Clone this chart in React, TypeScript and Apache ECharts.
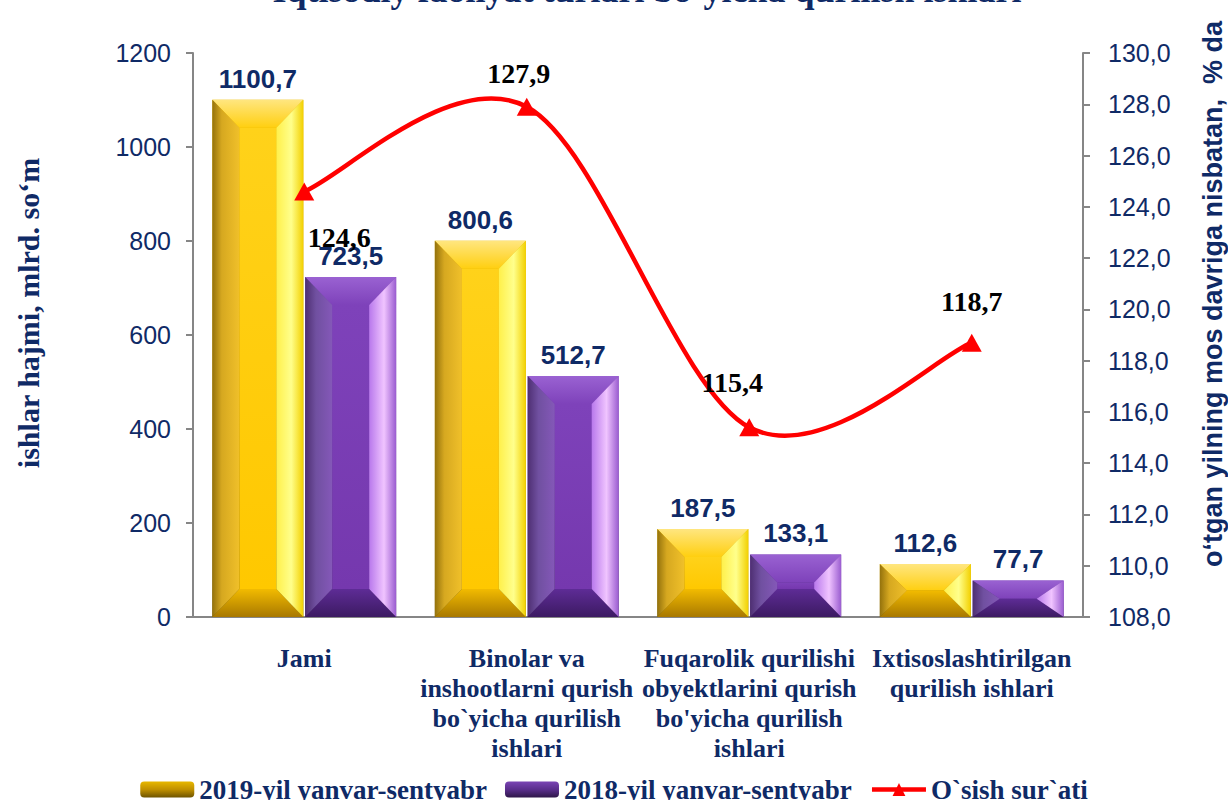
import React, { useEffect, useRef } from "react";
import * as echarts from "echarts";

const titleText = "Iqtisodiy faoliyat turlari bo‘yicha qurilish ishlari";
const leftAxisTitle = "ishlar hajmi, mlrd. so‘m";
const rightAxisTitle = "o‘tgan yilning mos davriga nisbatan,  % da";

const categories = [
  "Jami",
  "Binolar va\ninshootlarni qurish\nbo`yicha qurilish\nishlari",
  "Fuqarolik qurilishi\nobyektlarini qurish\nbo'yicha qurilish\nishlari",
  "Ixtisoslashtirilgan\nqurilish ishlari",
];
const seriesNames = ["2019-yil yanvar-sentyabr", "2018-yil yanvar-sentyabr", "O`sish sur`ati"];
const values2019 = [1100.7, 800.6, 187.5, 112.6];
const values2018 = [723.5, 512.7, 133.1, 77.7];
const growthRate = [124.6, 127.9, 115.4, 118.7];

const leftMin = 0;
const leftMax = 1200;
const leftStep = 200;
const rightMin = 108;
const rightMax = 130;
const rightStep = 2;

// label offsets for line labels (px, relative to marker centre)
const lineLabelOffsets = [
  [35, 46],
  [-8, -33],
  [-17, -45],
  [0, -41],
];

const NAVY = "#0f2a66";
const RED = "#ff0000";
const SERIF = '"Liberation Serif", "Times New Roman", serif';
const SANS = '"Liberation Sans", Arial, sans-serif';
const AXIS_GRAY = "#868686";
const BAR_W = 91;
const BAR_GAP_FRAC = 0.02;
const LINE_W = 4.5;

const fmt = (v: number) => v.toFixed(1).replace(".", ",");

const lg = (x2: number, y2: number, stops: [number, string][]) => ({
  type: "linear",
  x: 0,
  y: 0,
  x2,
  y2,
  colorStops: stops.map(([offset, color]) => ({ offset, color })),
});

const yellowFaces = {
  center: lg(0, 1, [
    [0, "#ffd21a"],
    [1, "#ffc800"],
  ]),
  top: lg(0, 1, [
    [0, "#ffe680"],
    [1, "#ffcf10"],
  ]),
  left: lg(1, 0, [
    [0, "#94720c"],
    [0.35, "#d6a820"],
    [1, "#f0c02a"],
  ]),
  right: lg(1, 0, [
    [0, "#fff04a"],
    [0.55, "#ffff8c"],
    [1, "#f2d000"],
  ]),
  bottom: lg(0, 1, [
    [0, "#f2bb00"],
    [1, "#a87800"],
  ]),
};

const purpleFaces = {
  center: lg(0, 1, [
    [0, "#7e42ba"],
    [1, "#7538ae"],
  ]),
  top: lg(0, 1, [
    [0, "#9a62d2"],
    [1, "#7e42ba"],
  ]),
  left: lg(1, 0, [
    [0, "#4e2f72"],
    [0.4, "#7050a0"],
    [1, "#8458b8"],
  ]),
  right: lg(1, 0, [
    [0, "#b878ec"],
    [0.55, "#f0c4ff"],
    [1, "#9a5cd0"],
  ]),
  bottom: lg(0, 1, [
    [0, "#5e2c96"],
    [1, "#3c1a62"],
  ]),
};

function makeBevel(faces: any, side: number) {
  return (_params: any, api: any) => {
    const idx = api.value(0);
    const val = api.value(1);
    const top = api.coord([idx, val]);
    const base = api.coord([idx, 0]);
    const g = BAR_W * BAR_GAP_FRAC;
    const x0 = side === 0 ? top[0] - BAR_W - g / 2 : top[0] + g / 2;
    const x1 = x0 + BAR_W;
    const yT = top[1];
    const yB = base[1];
    const h = yB - yT;
    const dx = Math.min(27, BAR_W / 2);
    const dy = Math.min(28, h / 2);
    const ix0 = x0 + dx;
    const ix1 = x1 - dx;
    const iyT = yT + dy;
    const iyB = yB - dy;
    const poly = (points: number[][], fill: any) => ({
      type: "polygon",
      shape: { points },
      style: { fill, stroke: null },
    });
    return {
      type: "group",
      children: [
        {
          type: "rect",
          shape: { x: ix0, y: iyT, width: ix1 - ix0, height: Math.max(0, iyB - iyT) },
          style: { fill: faces.center },
        },
        poly([[x0, yT], [x1, yT], [ix1, iyT], [ix0, iyT]], faces.top),
        poly([[x0, yB], [x1, yB], [ix1, iyB], [ix0, iyB]], faces.bottom),
        poly([[x0, yT], [ix0, iyT], [ix0, iyB], [x0, yB]], faces.left),
        poly([[x1, yT], [ix1, iyT], [ix1, iyB], [x1, yB]], faces.right),
      ],
    };
  };
}

// Catmull-Rom style spline segments (like a spreadsheet's smoothed line)
const curveSegments = growthRate.slice(0, -1).map((v, i) => [
  i,
  growthRate[Math.max(0, i - 1)],
  v,
  growthRate[i + 1],
  growthRate[Math.min(growthRate.length - 1, i + 2)],
]);

function renderCurve(_params: any, api: any) {
  const i = api.value(0);
  const n = growthRate.length;
  const p0 = api.coord([Math.max(0, i - 1), api.value(1)]);
  const p1 = api.coord([i, api.value(2)]);
  const p2 = api.coord([i + 1, api.value(3)]);
  const p3 = api.coord([Math.min(n - 1, i + 2), api.value(4)]);
  const k = 1 / 6;
  return {
    type: "bezierCurve",
    shape: {
      x1: p1[0],
      y1: p1[1],
      x2: p2[0],
      y2: p2[1],
      cpx1: p1[0] + (p2[0] - p0[0]) * k,
      cpy1: p1[1] + (p2[1] - p0[1]) * k,
      cpx2: p2[0] - (p3[0] - p1[0]) * k,
      cpy2: p2[1] - (p3[1] - p1[1]) * k,
    },
    style: { stroke: RED, lineWidth: LINE_W, fill: null, lineCap: "round" },
  };
}

export default function App() {
  const ref = useRef<HTMLDivElement>(null);

  useEffect(() => {
    if (!ref.current) return;
    const chart = echarts.init(ref.current, null, { renderer: "svg" });

    const barLabel = {
      show: true,
      position: "top",
      distance: 8,
      formatter: (p: any) => fmt(p.value),
      fontFamily: SANS,
      fontWeight: "bold",
      fontSize: 26,
      color: NAVY,
    };

    const option: any = {
      animation: false,
      backgroundColor: "#ffffff",
      grid: { left: 193, right: 145, top: 53, bottom: 183, containLabel: false },
      legend: {
        data: [
          { name: seriesNames[0] },
          { name: seriesNames[1] },
          { name: seriesNames[2], lineStyle: { color: RED, width: LINE_W, opacity: 1 } },
        ],
        left: "center",
        top: 771,
        itemWidth: 54,
        itemHeight: 16,
        itemGap: 18,
        textStyle: { fontFamily: SERIF, fontWeight: "bold", fontSize: 27, color: NAVY },
      },
      graphic: [
        {
          type: "text",
          x: 647,
          y: -10,
          style: {
            text: titleText,
            fontFamily: SERIF,
            fontWeight: "bold",
            fontSize: 36,
            fill: NAVY,
            textAlign: "center",
            textVerticalAlign: "middle",
          },
        },
        {
          type: "text",
          x: 28,
          y: 313,
          rotation: Math.PI / 2,
          style: {
            text: leftAxisTitle,
            fontFamily: SERIF,
            fontWeight: "bold",
            fontSize: 30,
            fill: NAVY,
            textAlign: "center",
            textVerticalAlign: "middle",
          },
        },
        {
          type: "text",
          x: 1213,
          y: 294,
          rotation: Math.PI / 2,
          style: {
            text: rightAxisTitle,
            fontFamily: SANS,
            fontWeight: "bold",
            fontSize: 27,
            fill: NAVY,
            textAlign: "center",
            textVerticalAlign: "middle",
          },
        },
      ],
      xAxis: {
        type: "category",
        data: categories,
        axisLine: { show: true, lineStyle: { color: AXIS_GRAY, width: 2 } },
        axisTick: { show: false },
        axisLabel: {
          interval: 0,
          margin: 26,
          fontFamily: SERIF,
          fontWeight: "bold",
          fontSize: 26,
          lineHeight: 30,
          color: NAVY,
        },
        splitLine: { show: false },
      },
      yAxis: [
        {
          type: "value",
          min: leftMin,
          max: leftMax,
          interval: leftStep,
          axisLine: { show: true, lineStyle: { color: AXIS_GRAY, width: 2 } },
          axisTick: { show: true, length: 7, lineStyle: { color: AXIS_GRAY, width: 2 } },
          axisLabel: {
            margin: 22,
            fontFamily: SANS,
            fontSize: 25,
            color: NAVY,
            formatter: (v: number) => String(v),
          },
          splitLine: { show: false },
        },
        {
          type: "value",
          min: rightMin,
          max: rightMax,
          interval: rightStep,
          position: "right",
          axisLine: { show: true, lineStyle: { color: AXIS_GRAY, width: 2 } },
          axisTick: { show: true, length: 7, lineStyle: { color: AXIS_GRAY, width: 2 } },
          axisLabel: {
            margin: 25,
            fontFamily: SANS,
            fontSize: 25,
            color: NAVY,
            formatter: (v: number) => fmt(v),
          },
          splitLine: { show: false },
        },
      ],
      series: [
        {
          name: seriesNames[0],
          type: "bar",
          data: values2019,
          barWidth: BAR_W,
          barGap: `${BAR_GAP_FRAC * 100}%`,
          z: 2,
          itemStyle: {
            color: lg(0, 1, [
              [0, "#e8b800"],
              [0.5, "#c09000"],
              [1, "#6e5400"],
            ]),
          },
          label: barLabel,
        },
        {
          name: seriesNames[1],
          type: "bar",
          data: values2018,
          barWidth: BAR_W,
          barGap: `${BAR_GAP_FRAC * 100}%`,
          z: 2,
          itemStyle: {
            color: lg(0, 1, [
              [0, "#7a44b4"],
              [0.5, "#5a2e8c"],
              [1, "#2e1648"],
            ]),
          },
          label: barLabel,
        },
        {
          type: "custom",
          silent: true,
          z: 3,
          renderItem: makeBevel(yellowFaces, 0),
          encode: { x: 0, y: 1 },
          data: values2019.map((v, i) => [i, v]),
        },
        {
          type: "custom",
          silent: true,
          z: 3,
          renderItem: makeBevel(purpleFaces, 1),
          encode: { x: 0, y: 1 },
          data: values2018.map((v, i) => [i, v]),
        },
        {
          type: "custom",
          silent: true,
          z: 4,
          yAxisIndex: 1,
          renderItem: renderCurve,
          encode: { x: 0, y: 2 },
          data: curveSegments,
        },
        {
          name: seriesNames[2],
          type: "line",
          yAxisIndex: 1,
          z: 5,
          symbol: "triangle",
          symbolSize: [20, 18],
          lineStyle: { color: RED, width: LINE_W, opacity: 0 },
          itemStyle: { color: RED },
          data: growthRate.map((v, i) => ({
            value: v,
            label: { offset: lineLabelOffsets[i] },
          })),
          label: {
            show: true,
            position: "inside",
            formatter: (p: any) => fmt(p.value),
            fontFamily: SERIF,
            fontWeight: "bold",
            fontSize: 28,
            color: "#000000",
          },
        },
      ],
    };

    chart.setOption(option);
    return () => chart.dispose();
  }, []);

  return (
    <div
      ref={ref}
      style={{ position: "fixed", left: 0, top: 0, width: 1228, height: 800, background: "#fff" }}
    />
  );
}
